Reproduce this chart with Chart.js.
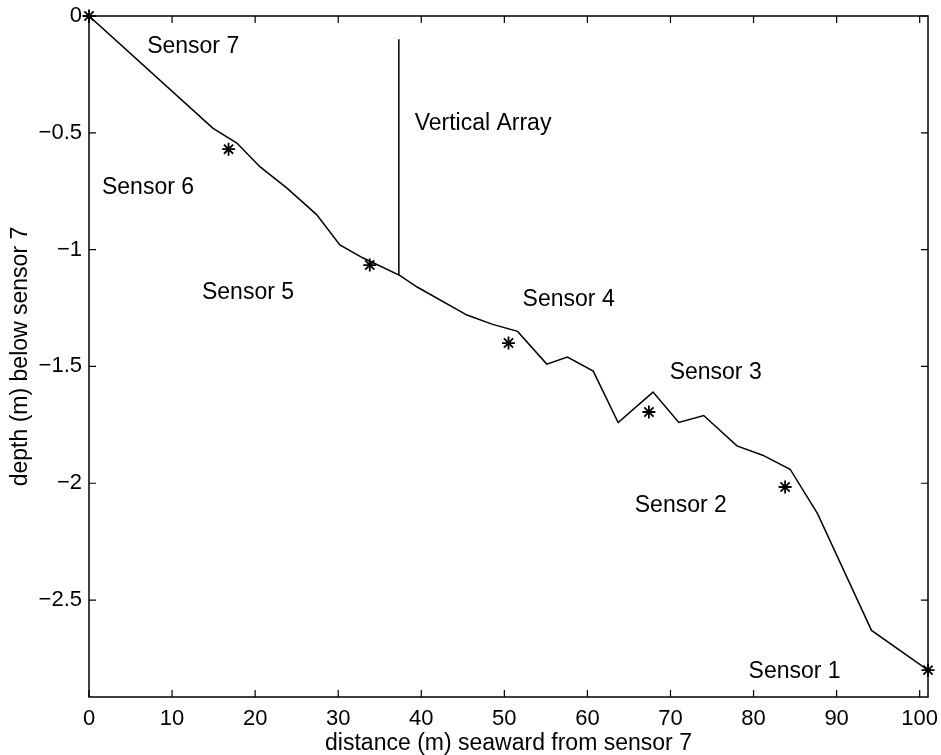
<!DOCTYPE html>
<html>
<head>
<meta charset="utf-8">
<script src="https://cdn.jsdelivr.net/npm/chart.js@4/dist/chart.umd.min.js"></script>
<style>
  html, body { margin: 0; padding: 0; background: #fff; }
  #c { display: block; }
</style>
</head>
<body>
<canvas id="c" width="941" height="755"></canvas>
<script>
// ---- data ----
const profileX = [0, 14.9, 17.8, 20.6, 23.8, 27.4, 30.2, 33.0, 37.4, 39.5, 45.5, 48.6, 51.6, 55.1, 57.6, 60.7, 63.7, 67.9, 71.0, 74.0, 78.0, 81.1, 84.4, 87.7, 94.2, 101];
const profileY = [0, -0.48, -0.544, -0.646, -0.736, -0.85, -0.98, -1.036, -1.11, -1.16, -1.28, -1.32, -1.35, -1.49, -1.46, -1.52, -1.74, -1.61, -1.74, -1.71, -1.84, -1.88, -1.94, -2.13, -2.63, -2.80];

const sensorX = [0, 16.8, 33.8, 50.5, 67.4, 83.8, 101];
const sensorY = [0, -0.57, -1.066, -1.40, -1.695, -2.016, -2.80];

const arrayX = [37.3, 37.3];
const arrayY = [-0.10, -1.11];

const labelText = ["Sensor 7", "Vertical Array", "Sensor 6", "Sensor 5", "Sensor 4", "Sensor 3", "Sensor 2", "Sensor 1"];
const labelX = [7.0, 39.2, 1.56, 13.6, 52.2, 69.9, 65.7, 79.4];
const labelY = [-0.133, -0.46, -0.734, -1.186, -1.216, -1.528, -2.098, -2.808];

const xTicks = [0, 10, 20, 30, 40, 50, 60, 70, 80, 90, 100];
const yTicks = [0, -0.5, -1, -1.5, -2, -2.5];

const xTitle = "distance (m) seaward from sensor 7";
const yTitle = "depth (m) below sensor 7";

// ---- build ----
const pts = (xs, ys) => xs.map((x, i) => ({ x: x, y: ys[i] }));
const FONT = "'Liberation Sans', Arial, Helvetica, sans-serif";

const boxPlugin = {
  id: 'boxAndText',
  afterDatasetsDraw(chart) {
    const ctx = chart.ctx;
    const a = chart.chartArea;
    const xs = chart.scales.x, ys = chart.scales.y;
    ctx.save();
    ctx.strokeStyle = '#000';
    ctx.lineWidth = 1.5;
    ctx.strokeRect(a.left, a.top, a.right - a.left, a.bottom - a.top);
    const tl = 7;
    ctx.beginPath();
    xTicks.forEach(v => {
      const p = xs.getPixelForValue(v);
      ctx.moveTo(p, a.bottom); ctx.lineTo(p, a.bottom - tl);
      ctx.moveTo(p, a.top); ctx.lineTo(p, a.top + tl);
    });
    yTicks.forEach(v => {
      const p = ys.getPixelForValue(v);
      ctx.moveTo(a.left, p); ctx.lineTo(a.left + tl, p);
      ctx.moveTo(a.right, p); ctx.lineTo(a.right - tl, p);
    });
    ctx.lineWidth = 1.2;
    ctx.stroke();
    ctx.fillStyle = '#000';
    ctx.font = "23px " + FONT;
    ctx.textAlign = 'left';
    ctx.textBaseline = 'middle';
    labelText.forEach((t, i) => {
      ctx.fillText(t, xs.getPixelForValue(labelX[i]), ys.getPixelForValue(labelY[i]));
    });
    ctx.restore();
  }
};

new Chart(document.getElementById('c'), {
  type: 'scatter',
  data: {
    datasets: [
      {
        label: 'profile',
        data: pts(profileX, profileY),
        showLine: true,
        borderColor: '#000',
        borderWidth: 1.5,
        pointRadius: 0,
        fill: false,
        tension: 0
      },
      {
        label: 'vertical array',
        data: pts(arrayX, arrayY),
        showLine: true,
        borderColor: '#000',
        borderWidth: 1.5,
        pointRadius: 0,
        fill: false
      },
      {
        label: 'sensors',
        data: pts(sensorX, sensorY),
        showLine: false,
        pointStyle: 'star',
        pointRadius: 6.5,
        borderColor: '#000',
        backgroundColor: '#000',
        pointBorderWidth: 1.8,
        clip: false
      }
    ]
  },
  options: {
    responsive: false,
    animation: false,
    devicePixelRatio: 1,
    layout: { padding: { top: 16, right: 13, left: 0, bottom: 0 } },
    plugins: {
      legend: { display: false },
      tooltip: { enabled: false }
    },
    scales: {
      x: {
        type: 'linear',
        min: 0,
        max: 101,
        afterFit(s) { s.height = 58; s.paddingLeft = 0; s.paddingRight = 0; },
        afterBuildTicks(s) { s.ticks = xTicks.map(v => ({ value: v })); },
        grid: { display: false, drawTicks: false },
        border: { display: false },
        ticks: {
          color: '#000',
          font: { family: FONT, size: 22 },
          padding: 9,
          maxRotation: 0,
          autoSkip: false,
          callback: v => String(v)
        },
        title: {
          display: true,
          text: xTitle,
          color: '#000',
          font: { family: FONT, size: 23, lineHeight: 1.0 },
          padding: { top: 4, bottom: 0 }
        }
      },
      y: {
        type: 'linear',
        min: -2.915,
        max: 0,
        afterFit(s) { s.width = 89; s.paddingTop = 0; s.paddingBottom = 0; },
        afterBuildTicks(s) { s.ticks = yTicks.map(v => ({ value: v })); },
        grid: { display: false, drawTicks: false },
        border: { display: false },
        ticks: {
          color: '#000',
          font: { family: FONT, size: 22 },
          padding: 7,
          autoSkip: false,
          callback: v => String(v).replace('-', '\u2212')
        },
        title: {
          display: true,
          text: yTitle,
          color: '#000',
          font: { family: FONT, size: 23, lineHeight: 1.0 },
          padding: { top: 9, bottom: 0 }
        }
      }
    }
  },
  plugins: [boxPlugin]
});
</script>
</body>
</html>
